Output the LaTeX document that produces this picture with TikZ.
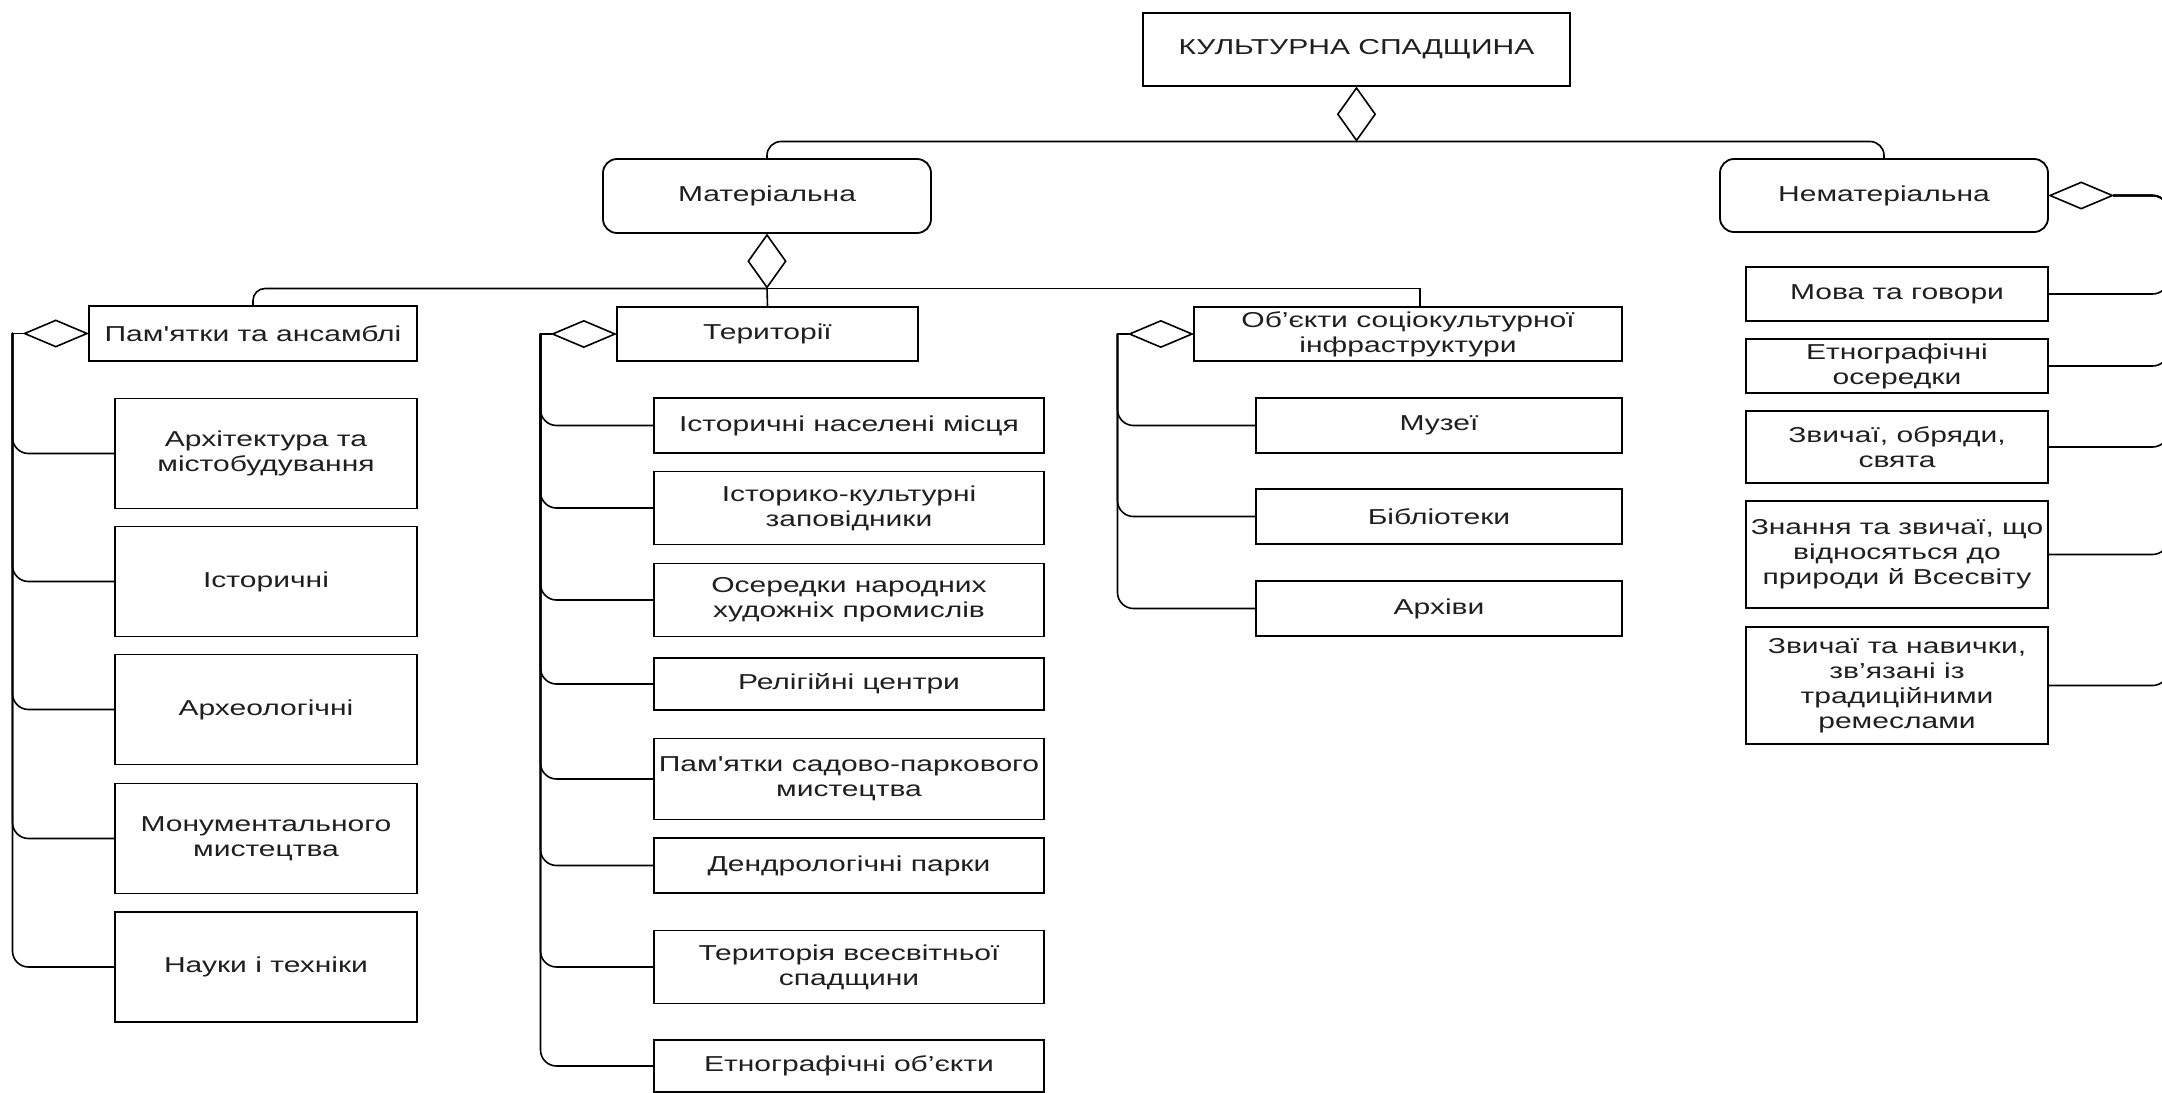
\documentclass[tikz,border=0pt]{standalone}
\usepackage{fontspec}
\newfontfamily\diagfont{Liberation Sans}[FakeStretch=1.39]
\usetikzlibrary{shapes.geometric}
\definecolor{txt}{gray}{0.12}
\begin{document}
\begin{tikzpicture}[x=1pt,y=-1pt,
  box/.style={draw, line width=1.8pt, rectangle, inner sep=0pt, align=center, text=txt,
    font=\diagfont\fontsize{21.6pt}{25pt}\selectfont},
  rbox/.style={box, rounded corners=14pt},
  aggh/.style={draw, line width=1.6pt, diamond, inner sep=0pt, minimum width=63pt, minimum height=27pt, fill=white},
  aggv/.style={draw, line width=1.6pt, diamond, inner sep=0pt, minimum width=38pt, minimum height=53pt, fill=white},
  link/.style={draw, line width=1.6pt, line cap=round},
  leafP/.style={box, minimum width=302pt, minimum height=110pt},
  leafT/.style={box, minimum width=390pt},
  leafO/.style={box, minimum width=366pt, minimum height=55pt},
  leafN/.style={box, minimum width=302pt},
]
\path[use as bounding box] (0,0) rectangle (2162,1092);
\fill[white] (0,0) rectangle (2162,1092);
\clip (0,0) rectangle (2162,1092);

% top level
\node[box, minimum width=427pt, minimum height=73pt] (top) at (1356.5,49.5) {КУЛЬТУРНА СПАДЩИНА};
\node[aggv, anchor=north] (dTop) at (top.south) {};
\node[rbox, minimum width=328pt, minimum height=74pt] (mat) at (767,196) {Матеріальна};
\node[rbox, minimum width=328pt, minimum height=73pt] (nem) at (1884,195.5) {Нематеріальна};
\node[aggv, anchor=north] (dMat) at (mat.south) {};
\node[aggh, anchor=west] (dNem) at (nem.east) {};

\draw[link, rounded corners=14pt] (mat.north) |- (dTop.south);
\draw[link, rounded corners=14pt] (nem.north) |- (dTop.south);

% second level
\node[box, minimum width=328pt, minimum height=55pt] (pam) at (253,333.5) {Пам'ятки та ансамблі};
\node[box, minimum width=301pt, minimum height=54pt] (ter) at (767.5,334) {Території};
\node[box, minimum width=428pt, minimum height=54pt] (obj) at (1408,334) {Об’єкти соціокультурної\\інфраструктури};

\draw[link, rounded corners=12pt] (pam.north) |- (dMat.south);
\draw[link] (ter.north) -- (dMat.south);
\draw[link] ([xshift=12pt]obj.north) |- (dMat.south);

\node[aggh, anchor=east] (dPam) at (pam.west) {};
\node[aggh, anchor=east] (dTer) at (ter.west) {};
\node[aggh, anchor=east] (dObj) at (obj.west) {};

\draw[link] (dPam.west) -- ++(-11pt,0) coordinate (tPam);
\draw[link] (dTer.west) -- ++(-11pt,0) coordinate (tTer);
\draw[link] (dObj.west) -- ++(-11pt,0) coordinate (tObj);
\coordinate (tNem) at ([xshift=55pt]dNem.east);

% Пам'ятки та ансамблі
\node[leafP] (pa1) at (266,453.5) {Архітектура та\\містобудування};
\node[leafP] (pa2) at (266,581.5) {Історичні};
\node[leafP] (pa3) at (266,709.5) {Археологічні};
\node[leafP] (pa4) at (266,838.5) {Монументального\\мистецтва};
\node[leafP] (pa5) at (266,967) {Науки і техніки};
\foreach \c in {pa1,pa2,pa3,pa4,pa5}
  \draw[link, rounded corners=16pt] (tPam) |- (\c.west);

% Території
\node[leafT, minimum height=55pt] (te1) at (849,425.5) {Історичні населені місця};
\node[leafT, minimum height=73pt] (te2) at (849,508) {Історико-культурні\\заповідники};
\node[leafT, minimum height=73pt] (te3) at (849,600) {Осередки народних\\художніх промислів};
\node[leafT, minimum height=52pt] (te4) at (849,684) {Релігійні центри};
\node[leafT, minimum height=81pt] (te5) at (849,779) {Пам'ятки садово-паркового\\мистецтва};
\node[leafT, minimum height=55pt] (te6) at (849,865.5) {Дендрологічні парки};
\node[leafT, minimum height=73pt] (te7) at (849,967) {Територія всесвітньої\\спадщини};
\node[leafT, minimum height=52pt] (te8) at (849,1066) {Етнографічні об’єкти};
\foreach \c in {te1,te2,te3,te4,te5,te6,te7,te8}
  \draw[link, rounded corners=16pt] (tTer) |- (\c.west);

% Об'єкти соціокультурної інфраструктури
\node[leafO] (ob1) at (1439,425.5) {Музеї};
\node[leafO] (ob2) at (1439,516.5) {Бібліотеки};
\node[leafO] (ob3) at (1439,608.5) {Архіви};
\foreach \c in {ob1,ob2,ob3}
  \draw[link, rounded corners=16pt] (tObj) |- (\c.west);

% Нематеріальна
\node[leafN, minimum height=54pt] (ne1) at (1897,294) {Мова та говори};
\node[leafN, minimum height=54pt] (ne2) at (1897,366) {Етнографічні\\осередки};
\node[leafN, minimum height=72pt] (ne3) at (1897,447) {Звичаї, обряди,\\свята};
\node[leafN, minimum height=107pt] (ne4) at (1897,554.5) {Знання та звичаї, що\\відносяться до\\природи й Всесвіту};
\node[leafN, minimum height=117pt] (ne5) at (1897,685.5) {Звичаї та навички,\\зв’язані із\\традиційними\\ремеслами};
\foreach \c in {ne1,ne2,ne3,ne4,ne5}
  \draw[link, rounded corners=16pt] (dNem.east) -- (tNem) |- (\c.east);
\end{tikzpicture}
\end{document}
